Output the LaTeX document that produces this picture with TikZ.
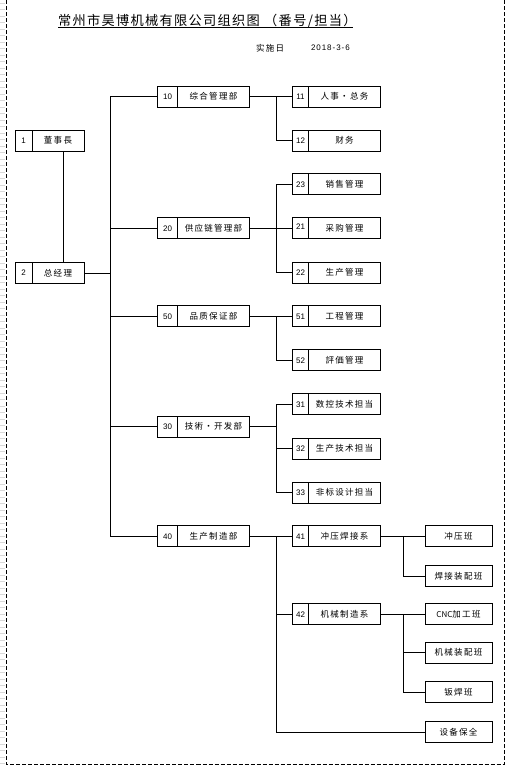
\documentclass[tikz,border=0pt]{standalone}
\usepackage{fontspec}
\setmainfont{Liberation Sans}
\newfontfamily\cjk[LetterSpace=15]{Noto Sans CJK SC}
\newfontfamily\cjkplain{Noto Sans CJK SC}
\newfontfamily\cjktitle[LetterSpace=10]{Noto Sans CJK SC}
\newfontfamily\numsp[LetterSpace=12]{Liberation Sans}
\newcommand\orgbox[7]{% name, left x, center y, num width, label width, number, label
  \node[numcell, minimum width=#4pt, anchor=west] (#1-n) at (#2,#3) {#6};
  \node[labcell, minimum width=#5pt, anchor=west] (#1) at (#1-n.east) {#7};
}
\begin{document}
\begin{tikzpicture}[x=1pt,y=-1pt,
  every node/.style={inner sep=0pt, outer sep=0pt},
  cell/.style={draw, line width=0.9pt, minimum height=21pt},
  numcell/.style={cell, font=\fontsize{8}{9}\selectfont},
  labcell/.style={cell, font=\cjk\fontsize{8.5}{10}\selectfont},
  unitbox/.style={labcell, minimum width=67pt, anchor=west},
  link/.style={line width=0.9pt},
  border/.style={line width=0.9pt, dash pattern=on 4pt off 2pt},
  faint/.style={gray!30, line width=0.5pt}
]
\useasboundingbox (0,0) rectangle (512,769);

% faint sheet grid at the left edge
\foreach \yy in {3,9.5,...,765} \draw[faint] (0,\yy) -- (4.5,\yy);

% dashed page border
\draw[border] (6.5,0) -- (6.5,764) -- (504,764) -- (504,0);

% title
\node[font=\cjktitle\fontsize{13.2}{15}\selectfont, anchor=base west] (title) at (58,25) {常州市昊博机械有限公司组织图 （番号/担当）};
\draw[link] ([yshift=-2.5pt]title.base west) -- ([xshift=-4pt,yshift=-2.5pt]title.base east);
\node[font=\cjk\fontsize{8.5}{10}\selectfont, anchor=west] (ssr) at (256,48) {实施日};
\node[font=\numsp\fontsize{8}{9}\selectfont, anchor=west] (date) at (311,48) {2018-3-6};

% root
\orgbox{b1}{15}{140.5}{17}{52}{1}{董事長}
\orgbox{b2}{15}{273}{17}{52}{2}{总经理}

% departments
\orgbox{d10}{157.5}{96.5}{20}{72}{10}{综合管理部}
\orgbox{d20}{157.5}{228.3}{20}{72}{20}{供应链管理部}
\orgbox{d50}{157.5}{316.3}{20}{72}{50}{品质保证部}
\orgbox{d30}{157.5}{426.5}{20}{72}{30}{技術・开发部}
\orgbox{d40}{157.5}{536.3}{20}{72}{40}{生产制造部}

% sections
\orgbox{e11}{292.5}{96.5}{16}{72}{11}{人事・总务}
\orgbox{e12}{292.5}{140.5}{16}{72}{12}{财务}
\orgbox{e23}{292.5}{184.3}{16}{72}{23}{销售管理}
\orgbox{e21}{292.5}{228.2}{16}{72}{\raisebox{3pt}{21}}{采购管理}
\orgbox{e22}{292.5}{272.7}{16}{72}{22}{生产管理}
\orgbox{e51}{292.5}{316.3}{16}{72}{51}{工程管理}
\orgbox{e52}{292.5}{360.3}{16}{72}{52}{評価管理}
\orgbox{e31}{292.5}{404.3}{16}{72}{31}{数控技术担当}
\orgbox{e32}{292.5}{448.5}{16}{72}{32}{生产技术担当}
\orgbox{e33}{292.5}{492.5}{16}{72}{33}{非标设计担当}
\orgbox{e41}{292.5}{536.3}{16}{72}{41}{冲压焊接系}
\orgbox{e42}{292.5}{614.3}{16}{72}{42}{机械制造系}

% units
\node[unitbox] (f1) at (425,536.3) {冲压班};
\node[unitbox] (f2) at (425,576.3) {焊接装配班};
\node[unitbox] (f3) at (425,614.3) {{\cjkplain\fontsize{8}{10}\selectfont CNC}加工班};
\node[unitbox] (f4) at (425,652.5) {机械装配班};
\node[unitbox] (f5) at (425,692.3) {钣焊班};
\node[unitbox] (f6) at (425,732) {设备保全};

% connectors
\draw[link] ([xshift=5.3pt]b1.south) -- ([xshift=5.3pt]b2.north);
\foreach \d in {d10,d20,d50,d30,d40}
  \draw[link] (b2.east) -- ++(26,0) |- (\d-n.west);
\foreach \p/\c in {d10/e11,d10/e12,d20/e23,d20/e21,d20/e22,d50/e51,d50/e52,d30/e31,d30/e32,d30/e33,d40/e41,d40/e42}
  \draw[link] (\p.east) -- ++(26.7,0) |- (\c-n.west);
\draw[link] (d40.east) -- ++(26.7,0) |- (f6.west);
\foreach \c in {f1,f2}
  \draw[link] (e41.east) -- ++(23,0) |- (\c.west);
\foreach \c in {f3,f4,f5}
  \draw[link] (e42.east) -- ++(23,0) |- (\c.west);
\end{tikzpicture}
\end{document}
